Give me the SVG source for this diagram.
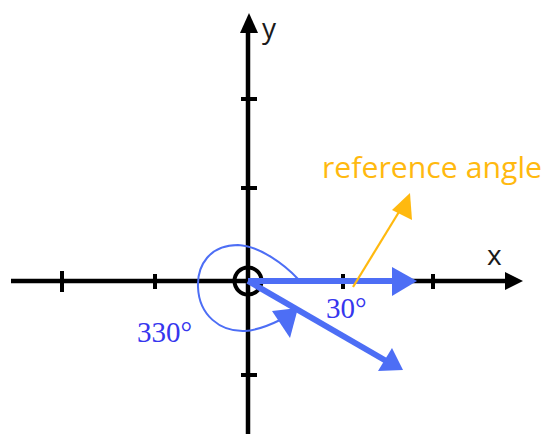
<svg xmlns="http://www.w3.org/2000/svg" width="545" height="434" viewBox="0 0 545 434">
<style>
.ax{stroke:#000;stroke-width:4.5;fill:none}
.tk{stroke:#000;stroke-width:4}
.bl{stroke:#4D6EF5;stroke-width:6;fill:none}
.blf{fill:#4D6EF5}
.lbl{font-family:"Open Sans","Liberation Sans",sans-serif;font-size:28px;fill:#1a1a1a}
.deg{font-family:"Liberation Serif","Times New Roman",serif;font-size:29px;fill:#3636EE}
</style>
<rect width="545" height="434" fill="#fff"/>
<g id="axes">
<line class="ax" x1="11" y1="281" x2="508" y2="281"/>
<polygon points="505,272 523,281 505,290" fill="#000"/>
<line class="ax" x1="248" y1="434" x2="248" y2="30"/>
<polygon points="240,33 249,13 258,33" fill="#000"/>
<line class="tk" x1="62" y1="271" x2="62" y2="292"/>
<line class="tk" x1="155" y1="274" x2="155" y2="289"/>
<line class="tk" x1="343" y1="274" x2="343" y2="289"/>
<line class="tk" x1="433" y1="274" x2="433" y2="289"/>
<line class="tk" x1="241" y1="99" x2="257" y2="99"/>
<line class="tk" x1="241" y1="188" x2="257" y2="188"/>
<line class="tk" x1="241" y1="375" x2="257" y2="375"/>
<circle cx="248" cy="281" r="13.5" fill="none" stroke="#000" stroke-width="4"/>
</g>
<g id="labels">
<text class="lbl" x="487" y="265">x</text>
<text class="lbl" x="262" y="38">y</text>
</g>
<g id="connectors">
<line class="bl" x1="248" y1="281" x2="395" y2="281"/>
<polygon class="blf" points="392,267 417,281 392,296"/>
<line class="bl" x1="248" y1="281" x2="388" y2="362"/>
<polygon class="blf" points="392,348 403,370 378,371"/>
<path d="M298,279 C285,265 260,246 238,245 C210,245 197,265 198,287 C199,315 220,332 245,331 C258,330 268,326 280,320" fill="none" stroke="#4D6EF5" stroke-width="2"/>
<polygon class="blf" points="272,311 298,308 290,338"/>
<line x1="353" y1="287" x2="402" y2="207" stroke="#FFB90F" stroke-width="2.2"/>
<polygon points="410,193 412,220 392,210" fill="#FFB90F"/>
</g>
<g id="angle-labels">
<text class="deg" x="137" y="342">330°</text>
<text class="deg" x="326" y="318">30°</text>
<text x="322" y="178" font-family="'Open Sans','Liberation Sans',sans-serif" font-size="29" fill="#FFB90F" textLength="220" lengthAdjust="spacingAndGlyphs">reference angle</text>
</g>
</svg>
